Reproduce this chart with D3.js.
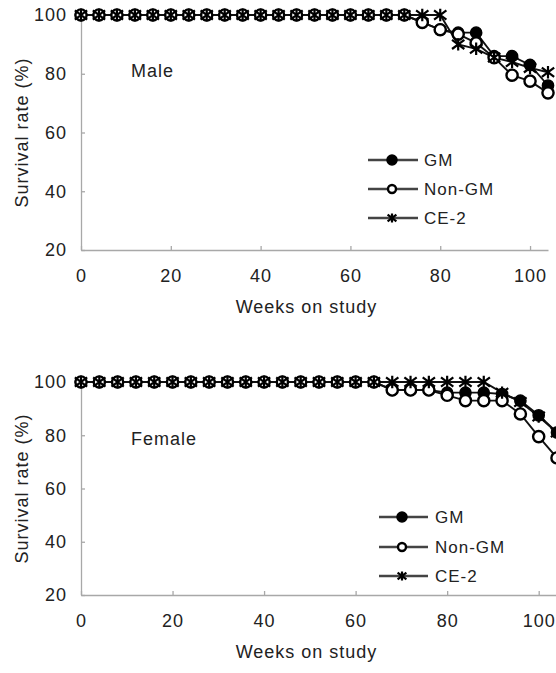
<!DOCTYPE html>
<html><head><meta charset="utf-8">
<script src="https://cdn.jsdelivr.net/npm/d3@7"></script>
<style>
body{margin:0;background:#fff;}
text{font-family:"Liberation Sans",Arial,sans-serif;fill:#222;}
</style></head>
<body><svg id="c" width="556" height="673"></svg>
<script>
const weeks = [0,4,8,12,16,20,24,28,32,36,40,44,48,52,56,60,64,68,72,76,80,84,88,92,96,100,104];
const xTicks = [0,20,40,60,80,100];
const yTicks = [20,40,60,80,100];
const seriesNames = ["GM","Non-GM","CE-2"];

const maleGM    = [100,100,100,100,100,100,100,100,100,100,100,100,100,100,100,100,100,100,100,97.5,95,94,94,86,86,83,76];
const maleNonGM = [100,100,100,100,100,100,100,100,100,100,100,100,100,100,100,100,100,100,100,97.5,95,93.5,90.5,85.5,79.5,77.5,73.5];
const maleCE2   = [100,100,100,100,100,100,100,100,100,100,100,100,100,100,100,100,100,100,100,100,100,90,88.5,85.5,84,82,80.5];

const femaleGM    = [100,100,100,100,100,100,100,100,100,100,100,100,100,100,100,100,100,97,97,97,96,96,96,95.5,93,87.5,81];
const femaleNonGM = [100,100,100,100,100,100,100,100,100,100,100,100,100,100,100,100,100,97,97,97,95,93,93,93,88,79.5,71.5];
const femaleCE2   = [100,100,100,100,100,100,100,100,100,100,100,100,100,100,100,100,100,100,100,100,100,100,100,96,92.5,87,81];

const svg = d3.select("#c");
const FS = 18, LS = "1px";

const panels = [
  {label:"Male", data:[maleGM,maleNonGM,maleCE2], xr:[81,548], yr:[250,15], leg:{x1:368,x2:418,mx:392,tx:424,ys:[160,189,218]}, labY:77},
  {label:"Female", data:[femaleGM,femaleNonGM,femaleCE2], xr:[81,557], yr:[595,382], leg:{x1:379,x2:428,mx:402,tx:435,ys:[517,547,576]}, labY:445}
];

function drawMarker(g, type, cx, cy, r){
  if(type===0){
    g.append("circle").attr("cx",cx).attr("cy",cy).attr("r",r).attr("fill","#000").attr("stroke","#000").attr("stroke-width",1.5);
  } else if(type===1){
    g.append("circle").attr("cx",cx).attr("cy",cy).attr("r",r).attr("fill","#fff").attr("stroke","#000").attr("stroke-width",2.4);
  } else {
    const s = r*1.1;
    const p = d3.path();
    p.moveTo(cx,cy-s); p.lineTo(cx,cy+s);
    p.moveTo(cx-s,cy-s*0.75); p.lineTo(cx+s,cy+s*0.75);
    p.moveTo(cx-s,cy+s*0.75); p.lineTo(cx+s,cy-s*0.75);
    g.append("path").attr("d",p.toString()).attr("stroke","#000").attr("stroke-width",2.2).attr("fill","none");
  }
}

panels.forEach(P=>{
  const x = d3.scaleLinear().domain([0,104]).range(P.xr);
  const y = d3.scaleLinear().domain([20,100]).range(P.yr);
  const g = svg.append("g");

  const xa = g.append("g").attr("transform",`translate(0,${P.yr[0]})`)
    .call(d3.axisBottom(x).tickValues(xTicks).tickSize(-4).tickSizeOuter(0).tickPadding(19).tickFormat(d3.format("d")));
  const ya = g.append("g").attr("transform",`translate(${P.xr[0]},0)`)
    .call(d3.axisLeft(y).tickValues(yTicks).tickSize(-4).tickSizeOuter(0).tickPadding(14).tickFormat(d3.format("d")));
  [xa,ya].forEach(a=>{
    a.selectAll("path,line").attr("stroke","#a8a8a8").attr("stroke-width",1.3);
    a.selectAll("text").attr("font-size",FS).attr("letter-spacing",LS).attr("fill","#222")
      .style("font-family",'"Liberation Sans",Arial,sans-serif');
  });

  g.append("text").attr("x",(P.xr[0]+530)/2+1).attr("y",P.yr[0]+63).attr("text-anchor","middle")
    .attr("font-size",FS).attr("letter-spacing",LS).text("Weeks on study");
  const ym = (P.yr[0]+P.yr[1])/2;
  g.append("text").attr("transform",`translate(28,${ym}) rotate(-90)`).attr("text-anchor","middle")
    .attr("font-size",FS).attr("letter-spacing",LS).text("Survival rate (%)");
  g.append("text").attr("x",131).attr("y",P.labY).attr("font-size",FS).attr("letter-spacing",LS).text(P.label);

  const line = d3.line().x((d,i)=>x(weeks[i])).y(d=>y(d));
  P.data.forEach(arr=>{
    g.append("path").datum(arr).attr("d",line).attr("fill","none").attr("stroke","#111").attr("stroke-width",1.9);
  });
  P.data.forEach((arr,si)=>{
    const mg = g.append("g");
    arr.forEach((v,i)=>drawMarker(mg, si, x(weeks[i]), y(v), 5.6));
  });

  const L = P.leg;
  seriesNames.forEach((nm,si)=>{
    const ly = L.ys[si];
    g.append("line").attr("x1",L.x1).attr("x2",L.x2).attr("y1",ly).attr("y2",ly).attr("stroke","#444").attr("stroke-width",2.4);
    drawMarker(g, si, L.mx, ly, si===0?5:4);
    g.append("text").attr("x",L.tx).attr("y",ly).attr("dy","0.36em").attr("font-size",FS-1).attr("letter-spacing",LS).text(nm);
  });
});
</script></body></html>
